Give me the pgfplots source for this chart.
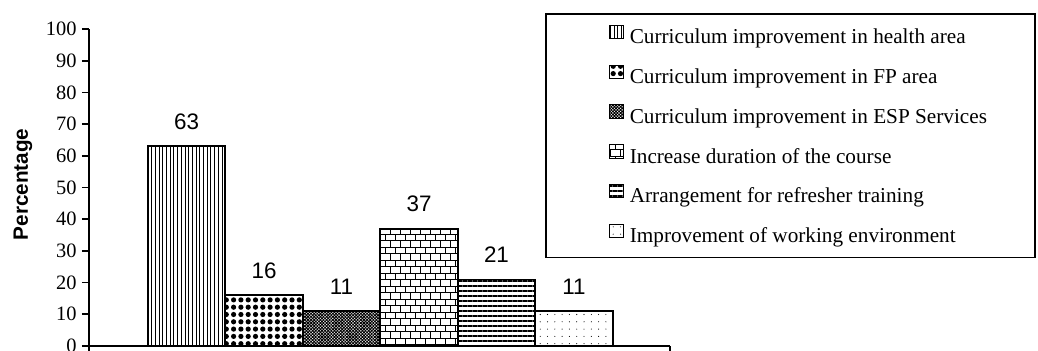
\documentclass[border=0pt]{standalone}
\usepackage{fontspec}
\setmainfont{Liberation Serif}
\newfontfamily\arial{Liberation Sans}
\usepackage{pgfplots}
\pgfplotsset{compat=1.18}
\usetikzlibrary{patterns,patterns.meta,calc}

% small brick pattern for the course-duration bar
\pgfdeclarepatternformonly{smallbricks}{\pgfpoint{-1bp}{-1bp}}{\pgfpoint{11bp}{14bp}}{\pgfpoint{10bp}{13bp}}{%
  \pgfsetlinewidth{0.8bp}%
  \pgfpathmoveto{\pgfpoint{0bp}{0bp}}\pgfpathlineto{\pgfpoint{10bp}{0bp}}%
  \pgfpathmoveto{\pgfpoint{0bp}{6.5bp}}\pgfpathlineto{\pgfpoint{10bp}{6.5bp}}%
  \pgfpathmoveto{\pgfpoint{0bp}{0bp}}\pgfpathlineto{\pgfpoint{0bp}{6.5bp}}%
  \pgfpathmoveto{\pgfpoint{5bp}{6.5bp}}\pgfpathlineto{\pgfpoint{5bp}{13bp}}%
  \pgfusepath{stroke}}

\begin{document}
\begin{tikzpicture}
\begin{axis}[
  name=ax,
  scale only axis, width=581bp, height=317bp,
  xmin=-1.26, xmax=6.24, ymin=0, ymax=100,
  axis lines*=left,
  axis line style={line width=1.7bp, black},
  ytick={0,10,...,100},
  xtick={-1.26,6.24}, xticklabels={},
  tick align=outside, major tick length=7bp,
  tick style={line width=1.7bp, black},
  /pgf/number format/assume math mode=true,
  yticklabel style={font=\fontsize{20.5}{21}\selectfont, xshift=-2bp},
  ylabel={Percentage},
  ylabel style={font=\arial\bfseries\fontsize{20.8}{22}\selectfont,
    at={(axis description cs:-0.1136,0.51)}, anchor=center},
  ybar, bar width=1,
  every axis plot/.append style={draw=black, line width=1.8bp},
  nodes near coords,
  nodes near coords style={font=\arial\fontsize{22.5}{24}\selectfont,
    anchor=south, inner sep=0pt, yshift=16bp, black},
  legend cell align=left,
  legend style={at={(0.785,1.0505)}, anchor=north west,
    draw=black, line width=1.6bp,
    font=\fontsize{21.3}{24}\selectfont,
    inner xsep=42bp, inner ysep=11bp, row sep=16.7bp,
    nodes={inner xsep=6bp, inner ysep=0pt, text height=14bp, text depth=4bp}},
  legend image code/.code={%
    \path (0bp,0bp);
    \draw[#1, line width=1.1bp] (21bp,0bp) rectangle (34.5bp,13.5bp);},
]
\addplot[bar shift=0pt, pattern={Lines[angle=90,distance=3.7bp,line width=0.9bp]}]
  coordinates {(0,63)};
\addlegendentry{Curriculum improvement in health area}
\addplot[bar shift=0pt, pattern={Dots[distance=7.3bp,radius=2.6bp]}]
  coordinates {(1,16)};
\addlegendentry{Curriculum improvement in FP area}
\addplot[bar shift=0pt, pattern={Hatch[angle=45,distance=2.2bp,line width=0.9bp]}]
  coordinates {(2,11)};
\addlegendentry{Curriculum improvement in ESP Services}
\addplot[bar shift=0pt, pattern=smallbricks]
  coordinates {(3,37)};
\addlegendentry{Increase duration of the course}
\addplot[bar shift=0pt, pattern={Lines[angle=0,distance=5bp,line width=1.9bp]}]
  coordinates {(4,21)};
\addlegendentry{Arrangement for refresher training}
\addplot[bar shift=0pt, pattern={Dots[distance=7.3bp,radius=0.55bp]}]
  coordinates {(5,11)};
\addlegendentry{Improvement of working environment}
\end{axis}
\pgfresetboundingbox
\path ($(ax.south west)+(-89bp,-5bp)$) rectangle ($(ax.south west)+(949bp,346bp)$);
\end{tikzpicture}
\end{document}
